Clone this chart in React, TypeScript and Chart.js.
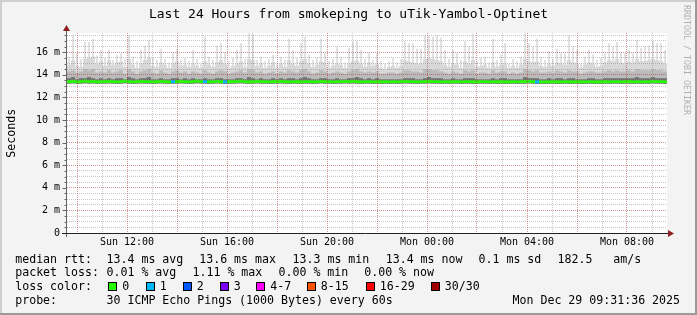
import React, { useEffect, useRef } from 'react';
import { Chart, registerables } from 'chart.js';

Chart.register(...registerables);

const TITLE = 'Last 24 Hours from smokeping to uTik-Yambol-Optinet';
const START_HOUR = 9.6; // Sun 09:36
const STEP_HOURS = 0.16;
const X_MIN = 9.6;
const X_MAX = 33.6;
const Y_MAX = 17.7;

const xGridHours = [10, 11, 12, 13, 14, 15, 16, 17, 18, 19, 20, 21, 22, 23, 24, 25, 26, 27, 28, 29, 30, 31, 32, 33];
const xTickHours = [12, 16, 20, 24, 28, 32];
const xTickLabels = ['Sun 12:00', 'Sun 16:00', 'Sun 20:00', 'Mon 00:00', 'Mon 04:00', 'Mon 08:00'];
const yTickValues = [0, 2, 4, 6, 8, 10, 12, 14, 16];
const yTickLabels = ['0', '2 m', '4 m', '6 m', '8 m', '10 m', '12 m', '14 m', '16 m'];

const lossLabels = ['0', '1', '2', '3', '4-7', '8-15', '16-29', '30/30'];
const lossColors = ['#26ff00', '#00b8ff', '#0059ff', '#7a00ff', '#ff00ff', '#ff5500', '#ff0000', '#a10000'];

const rttLabel = 'median rtt:';
const rttStats = ['13.4 ms avg', '13.6 ms max', '13.3 ms min', '13.4 ms now', '0.1 ms sd', '182.5', 'am/s'];
const lossLabel = 'packet loss:';
const lossStats = ['0.01 % avg', '1.11 % max', '0.00 % min', '0.00 % now'];
const probeLabel = 'probe:';
const probeText = '30 ICMP Echo Pings (1000 Bytes) every 60s';
const dateText = 'Mon Dec 29 09:31:36 2025';

// smoke: highest ping per step (ms)
const maxV = [
  15.6, 17.5, 15.9, 15.4, 16.9, 16.9, 17.2, 15.7, 16.2, 15.5,
  16.2, 15.3, 15.75, 15.9, 15.4, 17.5, 15.6, 15.2, 16.2, 16.6,
  17.1, 15.5, 15.3, 16.3, 15.4, 15.1, 15.9, 16.3, 15.3, 15.5,
  15.2, 16.2, 15.4, 15.0, 17.4, 15.6, 15.3, 16.6, 16.8, 16.05,
  15.2, 15.5, 16.2, 16.8, 15.4, 17.67, 17.6, 15.3, 15.6, 15.2,
  15.4, 15.75, 15.1, 15.6, 15.3, 17.2, 16.2, 15.5, 16.8, 17.4,
  15.8, 15.3, 15.5, 17.2, 15.9, 15.2, 15.4, 16.5, 15.6, 15.1,
  16.4, 16.9, 17.0, 16.2, 15.4, 16.0, 15.3, 15.9, 15.2, 15.0,
  15.2, 15.5, 15.1, 15.4, 17.0, 16.8, 16.8, 16.3, 16.3, 17.5,
  17.5, 17.4, 17.5, 17.3, 16.2, 15.4, 16.2, 15.9, 15.3, 17.0,
  16.5, 17.67, 15.2, 15.5, 15.6, 15.1, 17.2, 15.3, 15.75, 16.8,
  15.0, 15.4, 15.2, 15.6, 17.67, 16.8, 16.5, 17.2, 15.6, 15.3,
  16.1, 15.4, 16.3, 15.9, 15.9, 17.5, 16.5, 16.2, 15.0, 15.6,
  16.2, 15.8, 15.3, 15.5, 15.9, 16.8, 16.5, 16.9, 16.0, 15.9,
  16.2, 15.9, 17.1, 16.4, 16.5, 16.6, 17.0, 16.8, 16.8, 16.2,
];

// smoke: upper body of the ping spread (ms)
const hiV = [
  14.9, 15.3, 14.8, 14.7, 15.4, 15.5, 15.6, 15.0, 15.2, 14.8,
  15.3, 14.9, 15.1, 15.2, 14.7, 15.4, 14.9, 14.6, 15.0, 15.3,
  15.5, 14.8, 14.7, 15.1, 14.9, 14.6, 15.0, 15.2, 14.8, 14.9,
  14.7, 15.0, 14.8, 14.6, 15.2, 14.9, 14.7, 15.1, 15.3, 15.0,
  14.6, 14.8, 15.0, 15.2, 14.7, 15.4, 15.3, 14.8, 15.0, 14.6,
  14.8, 15.1, 14.6, 15.0, 14.7, 15.3, 15.0, 14.8, 15.2, 15.4,
  15.0, 14.7, 14.9, 15.2, 15.1, 14.6, 14.8, 15.0, 14.9, 14.6,
  15.0, 15.2, 15.3, 15.0, 14.7, 15.1, 14.8, 15.0, 14.6, 14.5,
  14.7, 14.8, 14.6, 14.8, 15.3, 15.2, 15.1, 15.0, 15.0, 15.4,
  15.5, 15.4, 15.3, 15.2, 14.9, 14.7, 15.0, 14.9, 14.6, 15.2,
  15.0, 15.3, 14.7, 14.8, 14.9, 14.6, 15.1, 14.7, 14.9, 15.0,
  14.6, 14.8, 14.6, 14.9, 15.4, 15.2, 15.1, 15.2, 14.8, 14.7,
  15.0, 14.8, 15.1, 15.0, 14.9, 15.3, 15.1, 15.0, 14.6, 14.9,
  15.1, 15.0, 14.7, 14.8, 15.1, 15.3, 15.2, 15.4, 15.1, 15.0,
  15.2, 15.1, 15.4, 15.2, 15.2, 15.3, 15.4, 15.3, 15.2, 15.0,
];

// smoke: middle of the ping spread (ms)
const midV = [
  14.3, 14.4, 14.2, 14.3, 14.5, 14.4, 14.5, 14.2, 14.3, 14.2,
  14.4, 14.2, 14.3, 14.4, 14.1, 14.5, 14.3, 14.1, 14.3, 14.4,
  14.5, 14.2, 14.1, 14.4, 14.2, 14.1, 14.3, 14.4, 14.2, 14.3,
  14.1, 14.3, 14.2, 14.1, 14.4, 14.2, 14.1, 14.3, 14.4, 14.3,
  14.1, 14.2, 14.3, 14.4, 14.2, 14.5, 14.4, 14.2, 14.3, 14.1,
  14.2, 14.3, 14.1, 14.3, 14.2, 14.4, 14.3, 14.2, 14.4, 14.5,
  14.3, 14.1, 14.2, 14.4, 14.3, 14.1, 14.2, 14.3, 14.2, 14.1,
  14.3, 14.4, 14.5, 14.3, 14.2, 14.3, 14.2, 14.3, 14.1, 14.1,
  14.2, 14.2, 14.1, 14.2, 14.4, 14.4, 14.3, 14.3, 14.2, 14.5,
  14.5, 14.4, 14.4, 14.3, 14.2, 14.1, 14.3, 14.2, 14.1, 14.4,
  14.3, 14.4, 14.1, 14.2, 14.2, 14.1, 14.4, 14.2, 14.3, 14.3,
  14.1, 14.2, 14.1, 14.2, 14.5, 14.4, 14.3, 14.4, 14.2, 14.2,
  14.3, 14.2, 14.4, 14.3, 14.2, 14.4, 14.3, 14.3, 14.1, 14.2,
  14.3, 14.3, 14.2, 14.2, 14.3, 14.4, 14.3, 14.4, 14.3, 14.3,
  14.4, 14.3, 14.5, 14.4, 14.4, 14.4, 14.5, 14.4, 14.4, 14.3,
];

// smoke: dense core just above the median (ms)
const darkV = [
  13.7, 13.8, 13.6, 13.7, 13.7, 13.8, 13.7, 13.6, 13.7, 13.6,
  13.7, 13.6, 13.7, 13.7, 13.6, 13.8, 13.7, 13.6, 13.7, 13.7,
  13.8, 13.6, 13.6, 13.7, 13.6, 13.6, 13.7, 13.7, 13.6, 13.7,
  13.6, 13.7, 13.6, 13.6, 13.7, 13.6, 13.6, 13.7, 13.7, 13.6,
  13.6, 13.6, 13.7, 13.7, 13.6, 13.8, 13.7, 13.6, 13.7, 13.6,
  13.6, 13.7, 13.6, 13.7, 13.6, 13.7, 13.7, 13.6, 13.7, 13.8,
  13.7, 13.6, 13.6, 13.7, 13.7, 13.6, 13.6, 13.7, 13.6, 13.6,
  13.7, 13.7, 13.8, 13.7, 13.6, 13.7, 13.6, 13.7, 13.6, 13.6,
  13.6, 13.6, 13.6, 13.6, 13.7, 13.7, 13.7, 13.6, 13.6, 13.7,
  13.8, 13.7, 13.7, 13.7, 13.6, 13.6, 13.7, 13.6, 13.6, 13.7,
  13.7, 13.7, 13.6, 13.6, 13.6, 13.6, 13.7, 13.6, 13.7, 13.7,
  13.6, 13.6, 13.6, 13.6, 13.8, 13.7, 13.7, 13.7, 13.6, 13.6,
  13.7, 13.6, 13.7, 13.7, 13.6, 13.7, 13.7, 13.6, 13.6, 13.6,
  13.7, 13.7, 13.6, 13.6, 13.7, 13.7, 13.7, 13.7, 13.7, 13.7,
  13.7, 13.7, 13.8, 13.7, 13.7, 13.7, 13.8, 13.7, 13.7, 13.7,
];

// smoke: lowest ping per step (ms)
const lowV = [
  13.22, 13.24, 13.20, 13.22, 13.25, 13.22, 13.24, 13.20, 13.22, 13.22,
  13.24, 13.22, 13.20, 13.22, 13.25, 13.22, 13.20, 13.22, 13.24, 13.22,
  13.22, 13.20, 13.22, 13.24, 13.22, 13.20, 13.22, 13.22, 13.24, 13.22,
  13.20, 13.22, 13.25, 13.22, 13.22, 13.20, 13.22, 13.24, 13.22, 13.20,
  13.22, 13.22, 13.24, 13.25, 13.22, 13.20, 13.22, 13.24, 13.22, 13.22,
  13.20, 13.22, 13.22, 13.24, 13.22, 13.20, 13.22, 13.22, 13.20, 13.22,
  13.22, 13.20, 13.22, 13.24, 13.22, 13.22, 13.20, 13.22, 13.22, 13.24,
  13.22, 13.24, 13.22, 13.20, 13.22, 13.22, 13.20, 13.22, 13.20, 13.22,
  13.20, 13.22, 13.20, 13.22, 13.24, 13.22, 13.22, 13.20, 13.22, 13.22,
  13.24, 13.22, 13.22, 13.20, 13.22, 13.20, 13.22, 13.22, 13.20, 13.22,
  13.22, 13.20, 13.20, 13.22, 13.22, 13.20, 13.22, 13.20, 13.22, 13.20,
  13.20, 13.22, 13.20, 13.22, 13.22, 13.24, 13.22, 13.20, 13.20, 13.20,
  13.20, 13.22, 13.20, 13.20, 13.22, 13.20, 13.20, 13.22, 13.20, 13.20,
  13.22, 13.20, 13.20, 13.20, 13.22, 13.20, 13.22, 13.22, 13.20, 13.22,
  13.22, 13.20, 13.22, 13.20, 13.22, 13.20, 13.24, 13.22, 13.22, 13.20,
];

// median rtt per step (ms)
const medV = [
  13.40, 13.42, 13.38, 13.40, 13.44, 13.40, 13.42, 13.38, 13.40, 13.40,
  13.42, 13.40, 13.38, 13.40, 13.44, 13.40, 13.38, 13.40, 13.42, 13.40,
  13.40, 13.38, 13.40, 13.42, 13.40, 13.38, 13.40, 13.40, 13.42, 13.40,
  13.38, 13.40, 13.44, 13.40, 13.40, 13.38, 13.40, 13.42, 13.40, 13.38,
  13.40, 13.40, 13.42, 13.44, 13.40, 13.38, 13.40, 13.42, 13.40, 13.40,
  13.38, 13.40, 13.40, 13.42, 13.40, 13.38, 13.40, 13.40, 13.38, 13.40,
  13.40, 13.38, 13.40, 13.42, 13.40, 13.40, 13.38, 13.40, 13.40, 13.42,
  13.40, 13.42, 13.40, 13.38, 13.40, 13.40, 13.38, 13.40, 13.38, 13.40,
  13.38, 13.40, 13.38, 13.40, 13.42, 13.40, 13.40, 13.38, 13.40, 13.40,
  13.42, 13.40, 13.40, 13.38, 13.40, 13.38, 13.40, 13.40, 13.38, 13.40,
  13.40, 13.38, 13.38, 13.40, 13.40, 13.38, 13.40, 13.38, 13.40, 13.38,
  13.38, 13.40, 13.38, 13.40, 13.40, 13.42, 13.40, 13.38, 13.38, 13.38,
  13.38, 13.40, 13.38, 13.38, 13.40, 13.38, 13.38, 13.40, 13.38, 13.38,
  13.40, 13.38, 13.38, 13.38, 13.40, 13.38, 13.40, 13.40, 13.38, 13.40,
  13.40, 13.38, 13.40, 13.38, 13.40, 13.38, 13.42, 13.40, 13.40, 13.38,
];

// loss colour class per step (index into lossColors)
const lossV = [
  0, 0, 0, 0, 0, 0, 0, 0, 0, 0,
  0, 0, 0, 0, 0, 0, 0, 0, 0, 0,
  0, 0, 0, 0, 0, 0, 1, 0, 0, 0,
  0, 0, 0, 0, 1, 0, 0, 0, 0, 1,
  0, 0, 0, 0, 0, 0, 0, 0, 0, 0,
  0, 0, 0, 0, 0, 0, 0, 0, 0, 0,
  0, 0, 0, 0, 0, 0, 0, 0, 0, 0,
  0, 0, 0, 0, 0, 0, 0, 0, 0, 0,
  0, 0, 0, 0, 0, 0, 0, 0, 0, 0,
  0, 0, 0, 0, 0, 0, 0, 0, 0, 0,
  0, 0, 0, 0, 0, 0, 0, 0, 0, 0,
  0, 0, 0, 0, 0, 0, 0, 1, 0, 0,
  0, 0, 0, 0, 0, 0, 0, 0, 0, 0,
  0, 0, 0, 0, 0, 0, 0, 0, 0, 0,
  0, 0, 0, 0, 0, 0, 0, 0, 0, 0,
];

const MONO = '"DejaVu Sans Mono", "Liberation Mono", monospace';
const MED_HALF = 0.13;
const MAJOR = 'rgba(170, 40, 40, 0.5)';
const MINOR = 'rgba(130, 130, 130, 0.45)';

const decorPlugin = {
  id: 'decor',
  beforeDraw(chart: any) {
    const { ctx, width, height, chartArea: a } = chart;
    ctx.save();
    ctx.fillStyle = '#f3f3f3';
    ctx.fillRect(0, 0, width, height);
    ctx.fillStyle = '#cfcfcf';
    ctx.fillRect(0, 0, width, 2);
    ctx.fillRect(0, 0, 2, height);
    ctx.fillStyle = '#9a9a9a';
    ctx.fillRect(0, height - 2, width, 2);
    ctx.fillRect(width - 2, 0, 2, height);
    ctx.fillStyle = '#ffffff';
    ctx.fillRect(a.left, a.top, a.right - a.left, a.bottom - a.top);
    ctx.restore();
  },
  afterDraw(chart: any) {
    const { ctx, chartArea: a } = chart;
    const ys = chart.scales.y;
    ctx.save();
    // y axis + ticks
    const ax = a.left - 0.5;
    ctx.strokeStyle = '#666';
    ctx.lineWidth = 1;
    ctx.beginPath();
    ctx.moveTo(ax, a.bottom + 4);
    ctx.lineTo(ax, a.top - 3);
    ctx.stroke();
    ys.ticks.forEach((t: any) => {
      const p = Math.round(ys.getPixelForValue(t.value)) + 0.5;
      const major = yTickValues.indexOf(t.value) >= 0;
      ctx.beginPath();
      ctx.moveTo(ax - (major ? 4 : 2), p);
      ctx.lineTo(ax, p);
      ctx.stroke();
    });
    // x axis
    const ay = a.bottom + 0.5;
    ctx.strokeStyle = '#222';
    ctx.beginPath();
    ctx.moveTo(a.left - 5, ay);
    ctx.lineTo(a.right + 2, ay);
    ctx.stroke();
    // arrows
    ctx.fillStyle = '#8b1e1e';
    ctx.beginPath();
    ctx.moveTo(a.right + 1, ay - 3.5);
    ctx.lineTo(a.right + 1, ay + 3.5);
    ctx.lineTo(a.right + 7, ay);
    ctx.closePath();
    ctx.fill();
    ctx.beginPath();
    ctx.moveTo(ax - 3.5, a.top - 2);
    ctx.lineTo(ax + 3.5, a.top - 2);
    ctx.lineTo(ax, a.top - 8);
    ctx.closePath();
    ctx.fill();

    // title
    ctx.fillStyle = '#000';
    ctx.textBaseline = 'alphabetic';
    ctx.textAlign = 'center';
    ctx.font = `13px ${MONO}`;
    ctx.fillText(TITLE, 348.5, 18.3);

    // vertical axis title
    ctx.save();
    ctx.translate(15, 133.3);
    ctx.rotate(-Math.PI / 2);
    ctx.font = `11.6px ${MONO}`;
    ctx.fillText('Seconds', 0, 0);
    ctx.restore();

    // right side credit
    ctx.save();
    ctx.translate(683.5, 5);
    ctx.rotate(Math.PI / 2);
    ctx.textAlign = 'left';
    ctx.fillStyle = '#b0b0b0';
    ctx.font = `8.3px ${MONO}`;
    ctx.fillText('RRDTOOL / TOBI OETIKER', 0, 0);
    ctx.restore();

    // legend rows
    ctx.textAlign = 'left';
    ctx.font = `11.6px ${MONO}`;
    ctx.fillStyle = '#000';
    const rows = [262.5, 276.3, 290.1, 304];
    const rttX = [106.5, 199.2, 292.5, 385.7, 478.5, 557.5, 613.2];
    const lossX = [106.5, 192.5, 278.5, 364.2];
    const swX = [108, 145.5, 182.5, 219.5, 256, 306.5, 365.5, 430.5];
    ctx.fillText(rttLabel, 15.2, rows[0]);
    rttStats.forEach((s, i) => ctx.fillText(s, rttX[i], rows[0]));
    ctx.fillText(lossLabel, 15.2, rows[1]);
    lossStats.forEach((s, i) => ctx.fillText(s, lossX[i], rows[1]));
    ctx.fillText('loss color:', 15.2, rows[2]);
    lossLabels.forEach((s, i) => {
      const bx = Math.round(swX[i]);
      ctx.fillStyle = '#000';
      ctx.fillRect(bx, 282, 9, 9);
      ctx.fillStyle = lossColors[i];
      ctx.fillRect(bx + 1, 283, 7, 7);
      ctx.fillStyle = '#000';
      ctx.fillText(s, swX[i] + 14.3, rows[2]);
    });
    ctx.fillText(probeLabel, 15.2, rows[3]);
    ctx.fillText(probeText, 106.5, rows[3]);
    ctx.fillText(dateText, 512.5, rows[3]);
    ctx.restore();
  },
};

export default function App() {
  const ref = useRef<HTMLCanvasElement>(null);
  useEffect(() => {
    document.body.style.margin = '0';
    const canvas = ref.current;
    if (!canvas) return;
    const xs = maxV.map((_, i) => START_HOUR + STEP_HOURS * (i + 0.5));
    const band = (lo: number[], hi: number[]) => xs.map((x, i) => ({ x, y: [lo[i], hi[i]] }));
    const common = {
      grouped: false,
      barPercentage: 1,
      categoryPercentage: 1,
      inflateAmount: 0,
      borderWidth: 0,
      borderSkipped: false,
    };
    const chart = new Chart(canvas, {
      type: 'bar',
      data: {
        datasets: [
          {
            label: 'median rtt',
            data: xs.map((x, i) => ({ x, y: [medV[i] - MED_HALF, medV[i] + MED_HALF] })),
            backgroundColor: lossV.map((l) => lossColors[l]),
            ...common,
          },
          { label: 'core', data: band(lowV, darkV), backgroundColor: '#737373', ...common },
          { label: 'mid', data: band(lowV, midV), backgroundColor: '#bababa', ...common },
          { label: 'body', data: band(lowV, hiV), backgroundColor: '#d8d8d8', ...common },
          { label: 'max', data: band(lowV, maxV), backgroundColor: '#e2e2e2', ...common, barPercentage: 0.5 },
        ] as any,
      },
      options: {
        animation: false,
        responsive: false,
        devicePixelRatio: 1,
        events: [],
        layout: { padding: { top: 33, right: 30, left: 0, bottom: 0 } },
        plugins: { legend: { display: false }, tooltip: { enabled: false }, title: { display: false } },
        scales: {
          x: {
            type: 'linear',
            min: X_MIN,
            max: X_MAX,
            offset: false,
            afterFit: (s: any) => { s.height = 82; },
            afterBuildTicks: (s: any) => { s.ticks = xGridHours.map((v) => ({ value: v })); },
            grid: {
              offset: false,
              z: 1,
              drawTicks: false,
              lineWidth: 1,
              color: (c: any) => (c.tick && c.tick.value % 2 === 0 ? MAJOR : MINOR),
            },
            border: { display: false, dash: [1, 1] },
            ticks: {
              autoSkip: false,
              maxRotation: 0,
              padding: 3,
              color: '#000',
              font: { family: MONO, size: 10 },
              callback: (v: any) => {
                const i = xTickHours.indexOf(Number(v));
                return i >= 0 ? xTickLabels[i] : '';
              },
            },
          },
          y: {
            type: 'linear',
            min: 0,
            max: Y_MAX,
            afterFit: (s: any) => { s.width = 67; },
            afterBuildTicks: (s: any) => {
              const t: any[] = [];
              for (let i = 0; i <= 35; i++) t.push({ value: i * 0.5 });
              s.ticks = t;
            },
            grid: {
              z: 1,
              drawTicks: false,
              lineWidth: 1,
              color: (c: any) => {
                const v = c.tick ? c.tick.value : 0;
                if (v === 0) return 'rgba(0,0,0,0)';
                return v % 2 === 0 ? MAJOR : MINOR;
              },
            },
            border: { display: false, dash: [1, 1] },
            ticks: {
              autoSkip: false,
              padding: 7,
              color: '#000',
              font: { family: MONO, size: 10 },
              callback: (v: any) => {
                const i = yTickValues.indexOf(Number(v));
                return i >= 0 ? yTickLabels[i] : '';
              },
            },
          },
        },
      } as any,
      plugins: [decorPlugin],
    });
    return () => chart.destroy();
  }, []);
  return <canvas ref={ref} width={697} height={315} style={{ display: 'block' }} />;
}
